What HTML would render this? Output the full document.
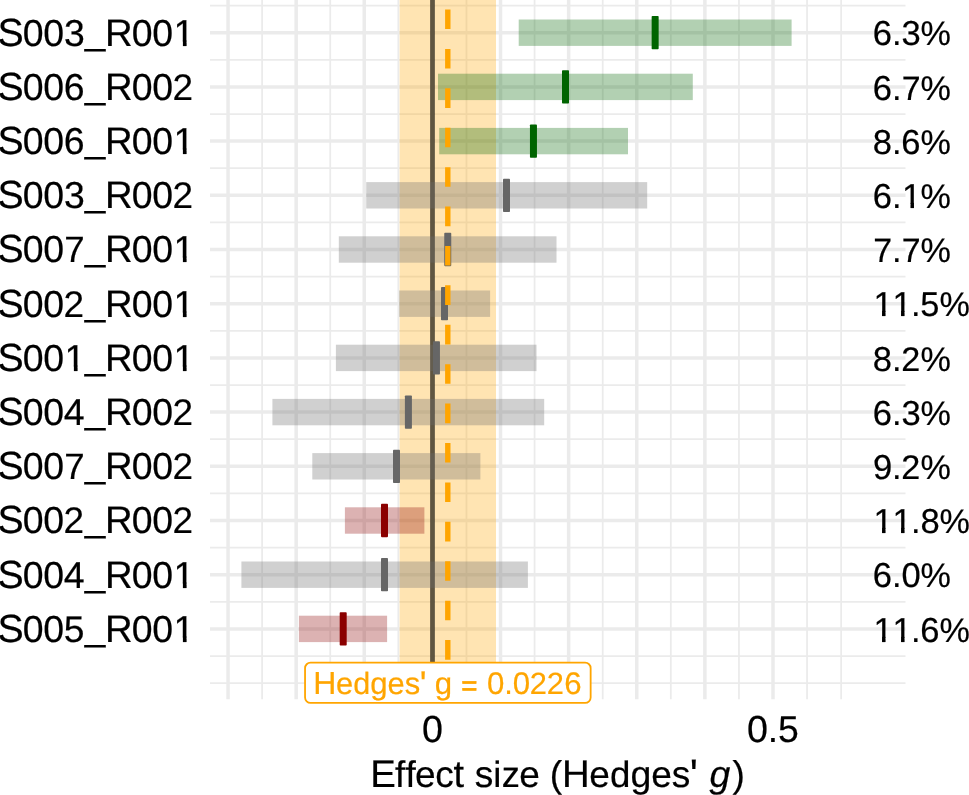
<!DOCTYPE html><html><head><meta charset="utf-8"><title>Forest plot</title><style>html,body{margin:0;padding:0;background:#fff;width:969px;height:795px;overflow:hidden}svg{display:block;will-change:transform}text{font-family:"Liberation Sans",sans-serif;text-rendering:geometricPrecision}</style></head><body>
<svg width="969" height="795" viewBox="0 0 969 795">
<defs><clipPath id="c1" clipPathUnits="userSpaceOnUse"><path clip-rule="evenodd" d="M-50 -74.0H1100V37.0H-50ZM174.69 -4.44H183.00V2.22H174.69ZM186.31 -4.44H194.20V2.22H186.31Z"/></clipPath><clipPath id="c2" clipPathUnits="userSpaceOnUse"><path clip-rule="evenodd" d="M-50 -74.0H1100V37.0H-50ZM174.69 -4.44H183.00V2.22H174.69ZM186.31 -4.44H194.20V2.22H186.31Z"/></clipPath><clipPath id="c3" clipPathUnits="userSpaceOnUse"><path clip-rule="evenodd" d="M-50 -68.4H1100V34.2H-50ZM903.06 -4.10H910.74V2.05H903.06ZM913.80 -4.10H921.08V2.05H913.80Z"/></clipPath><clipPath id="c4" clipPathUnits="userSpaceOnUse"><path clip-rule="evenodd" d="M-50 -74.0H1100V37.0H-50ZM174.69 -4.44H183.00V2.22H174.69ZM186.31 -4.44H194.20V2.22H186.31Z"/></clipPath><clipPath id="c5" clipPathUnits="userSpaceOnUse"><path clip-rule="evenodd" d="M-50 -74.0H1100V37.0H-50ZM174.69 -4.44H183.00V2.22H174.69ZM186.31 -4.44H194.20V2.22H186.31Z"/></clipPath><clipPath id="c6" clipPathUnits="userSpaceOnUse"><path clip-rule="evenodd" d="M-50 -68.4H1100V34.2H-50ZM874.54 -4.10H882.21V2.05H874.54ZM885.28 -4.10H892.56V2.05H885.28ZM893.56 -4.10H901.23V2.05H893.56ZM904.29 -4.10H911.58V2.05H904.29Z"/></clipPath><clipPath id="c7" clipPathUnits="userSpaceOnUse"><path clip-rule="evenodd" d="M-50 -74.0H1100V37.0H-50ZM65.68 -4.44H73.99V2.22H65.68ZM77.31 -4.44H85.19V2.22H77.31ZM174.69 -4.44H183.00V2.22H174.69ZM186.31 -4.44H194.20V2.22H186.31Z"/></clipPath><clipPath id="c8" clipPathUnits="userSpaceOnUse"><path clip-rule="evenodd" d="M-50 -68.4H1100V34.2H-50ZM874.54 -4.10H882.21V2.05H874.54ZM885.28 -4.10H892.56V2.05H885.28ZM893.56 -4.10H901.23V2.05H893.56ZM904.29 -4.10H911.58V2.05H904.29Z"/></clipPath><clipPath id="c9" clipPathUnits="userSpaceOnUse"><path clip-rule="evenodd" d="M-50 -74.0H1100V37.0H-50ZM174.69 -4.44H183.00V2.22H174.69ZM186.31 -4.44H194.20V2.22H186.31Z"/></clipPath><clipPath id="c10" clipPathUnits="userSpaceOnUse"><path clip-rule="evenodd" d="M-50 -74.0H1100V37.0H-50ZM174.69 -4.44H183.00V2.22H174.69ZM186.31 -4.44H194.20V2.22H186.31Z"/></clipPath><clipPath id="c11" clipPathUnits="userSpaceOnUse"><path clip-rule="evenodd" d="M-50 -68.4H1100V34.2H-50ZM874.54 -4.10H882.21V2.05H874.54ZM885.28 -4.10H892.56V2.05H885.28ZM893.56 -4.10H901.23V2.05H893.56ZM904.29 -4.10H911.58V2.05H904.29Z"/></clipPath></defs>
<rect width="969" height="795" fill="#fff"/>
<line x1="210.0" x2="905.5" y1="5.60" y2="5.60" stroke="#ebebeb" stroke-width="1.75"/>
<line x1="210.0" x2="905.5" y1="59.80" y2="59.80" stroke="#ebebeb" stroke-width="1.75"/>
<line x1="210.0" x2="905.5" y1="114.00" y2="114.00" stroke="#ebebeb" stroke-width="1.75"/>
<line x1="210.0" x2="905.5" y1="168.20" y2="168.20" stroke="#ebebeb" stroke-width="1.75"/>
<line x1="210.0" x2="905.5" y1="222.40" y2="222.40" stroke="#ebebeb" stroke-width="1.75"/>
<line x1="210.0" x2="905.5" y1="276.60" y2="276.60" stroke="#ebebeb" stroke-width="1.75"/>
<line x1="210.0" x2="905.5" y1="330.80" y2="330.80" stroke="#ebebeb" stroke-width="1.75"/>
<line x1="210.0" x2="905.5" y1="385.00" y2="385.00" stroke="#ebebeb" stroke-width="1.75"/>
<line x1="210.0" x2="905.5" y1="439.20" y2="439.20" stroke="#ebebeb" stroke-width="1.75"/>
<line x1="210.0" x2="905.5" y1="493.40" y2="493.40" stroke="#ebebeb" stroke-width="1.75"/>
<line x1="210.0" x2="905.5" y1="547.60" y2="547.60" stroke="#ebebeb" stroke-width="1.75"/>
<line x1="210.0" x2="905.5" y1="601.80" y2="601.80" stroke="#ebebeb" stroke-width="1.75"/>
<line x1="210.0" x2="905.5" y1="656.00" y2="656.00" stroke="#ebebeb" stroke-width="1.75"/>
<line x1="210.0" x2="905.5" y1="683.10" y2="683.10" stroke="#ebebeb" stroke-width="1.75"/>
<line y1="0.0" y2="699.3" x1="262.10" x2="262.10" stroke="#ebebeb" stroke-width="1.75"/>
<line y1="0.0" y2="699.3" x1="330.22" x2="330.22" stroke="#ebebeb" stroke-width="1.75"/>
<line y1="0.0" y2="699.3" x1="398.34" x2="398.34" stroke="#ebebeb" stroke-width="1.75"/>
<line y1="0.0" y2="699.3" x1="466.46" x2="466.46" stroke="#ebebeb" stroke-width="1.75"/>
<line y1="0.0" y2="699.3" x1="534.58" x2="534.58" stroke="#ebebeb" stroke-width="1.75"/>
<line y1="0.0" y2="699.3" x1="602.70" x2="602.70" stroke="#ebebeb" stroke-width="1.75"/>
<line y1="0.0" y2="699.3" x1="670.82" x2="670.82" stroke="#ebebeb" stroke-width="1.75"/>
<line y1="0.0" y2="699.3" x1="738.94" x2="738.94" stroke="#ebebeb" stroke-width="1.75"/>
<line y1="0.0" y2="699.3" x1="807.06" x2="807.06" stroke="#ebebeb" stroke-width="1.75"/>
<line y1="0.0" y2="699.3" x1="841.12" x2="841.12" stroke="#ebebeb" stroke-width="1.75"/>
<line x1="210.0" x2="905.5" y1="32.70" y2="32.70" stroke="#ebebeb" stroke-width="3.5"/>
<line x1="210.0" x2="905.5" y1="86.90" y2="86.90" stroke="#ebebeb" stroke-width="3.5"/>
<line x1="210.0" x2="905.5" y1="141.10" y2="141.10" stroke="#ebebeb" stroke-width="3.5"/>
<line x1="210.0" x2="905.5" y1="195.30" y2="195.30" stroke="#ebebeb" stroke-width="3.5"/>
<line x1="210.0" x2="905.5" y1="249.50" y2="249.50" stroke="#ebebeb" stroke-width="3.5"/>
<line x1="210.0" x2="905.5" y1="303.70" y2="303.70" stroke="#ebebeb" stroke-width="3.5"/>
<line x1="210.0" x2="905.5" y1="357.90" y2="357.90" stroke="#ebebeb" stroke-width="3.5"/>
<line x1="210.0" x2="905.5" y1="412.10" y2="412.10" stroke="#ebebeb" stroke-width="3.5"/>
<line x1="210.0" x2="905.5" y1="466.30" y2="466.30" stroke="#ebebeb" stroke-width="3.5"/>
<line x1="210.0" x2="905.5" y1="520.50" y2="520.50" stroke="#ebebeb" stroke-width="3.5"/>
<line x1="210.0" x2="905.5" y1="574.70" y2="574.70" stroke="#ebebeb" stroke-width="3.5"/>
<line x1="210.0" x2="905.5" y1="628.90" y2="628.90" stroke="#ebebeb" stroke-width="3.5"/>
<line y1="0.0" y2="699.3" x1="228.04" x2="228.04" stroke="#ebebeb" stroke-width="3.5"/>
<line y1="0.0" y2="699.3" x1="296.16" x2="296.16" stroke="#ebebeb" stroke-width="3.5"/>
<line y1="0.0" y2="699.3" x1="364.28" x2="364.28" stroke="#ebebeb" stroke-width="3.5"/>
<line y1="0.0" y2="699.3" x1="432.40" x2="432.40" stroke="#ebebeb" stroke-width="3.5"/>
<line y1="0.0" y2="699.3" x1="500.52" x2="500.52" stroke="#ebebeb" stroke-width="3.5"/>
<line y1="0.0" y2="699.3" x1="568.64" x2="568.64" stroke="#ebebeb" stroke-width="3.5"/>
<line y1="0.0" y2="699.3" x1="636.76" x2="636.76" stroke="#ebebeb" stroke-width="3.5"/>
<line y1="0.0" y2="699.3" x1="704.88" x2="704.88" stroke="#ebebeb" stroke-width="3.5"/>
<line y1="0.0" y2="699.3" x1="773.00" x2="773.00" stroke="#ebebeb" stroke-width="3.5"/>
<rect x="399.6" y="0.0" width="96.4" height="699.3" fill="rgba(255,165,0,0.3)"/>
<line x1="432.5" x2="432.5" y1="0.0" y2="699.3" stroke="rgba(0,0,0,0.6)" stroke-width="4.8"/>
<rect x="518.7" y="19.50" width="272.9" height="26.4" fill="rgba(0,100,0,0.3)"/>
<rect x="438.0" y="73.70" width="254.8" height="26.4" fill="rgba(0,100,0,0.3)"/>
<rect x="439.2" y="127.90" width="188.8" height="26.4" fill="rgba(0,100,0,0.3)"/>
<rect x="366.2" y="182.10" width="281.0" height="26.4" fill="rgba(110,110,110,0.32)"/>
<rect x="338.8" y="236.30" width="217.7" height="26.4" fill="rgba(110,110,110,0.32)"/>
<rect x="399.1" y="290.50" width="91.0" height="26.4" fill="rgba(110,110,110,0.32)"/>
<rect x="335.9" y="344.70" width="200.6" height="26.4" fill="rgba(110,110,110,0.32)"/>
<rect x="272.4" y="398.90" width="271.8" height="26.4" fill="rgba(110,110,110,0.32)"/>
<rect x="312.3" y="453.10" width="168.1" height="26.4" fill="rgba(110,110,110,0.32)"/>
<rect x="344.9" y="507.30" width="79.5" height="26.4" fill="rgba(139,0,0,0.3)"/>
<rect x="241.4" y="561.50" width="286.5" height="26.4" fill="rgba(110,110,110,0.32)"/>
<rect x="298.9" y="615.70" width="88.2" height="26.4" fill="rgba(139,0,0,0.3)"/>
<rect x="651.65" y="16.05" width="7.0" height="33.3" rx="0.8" fill="#006400"/>
<rect x="562.00" y="70.25" width="7.0" height="33.3" rx="0.8" fill="#006400"/>
<rect x="529.95" y="124.45" width="7.0" height="33.3" rx="0.8" fill="#006400"/>
<rect x="503.00" y="178.65" width="7.0" height="33.3" rx="0.8" fill="#666666"/>
<rect x="444.25" y="232.85" width="7.0" height="33.3" rx="0.8" fill="#666666"/>
<rect x="441.00" y="287.05" width="7.0" height="33.3" rx="0.8" fill="#666666"/>
<rect x="432.95" y="341.25" width="7.0" height="33.3" rx="0.8" fill="#666666"/>
<rect x="404.90" y="395.45" width="7.0" height="33.3" rx="0.8" fill="#666666"/>
<rect x="393.00" y="449.65" width="7.0" height="33.3" rx="0.8" fill="#666666"/>
<rect x="381.00" y="503.85" width="7.0" height="33.3" rx="0.8" fill="#8b0000"/>
<rect x="381.00" y="558.05" width="7.0" height="33.3" rx="0.8" fill="#666666"/>
<rect x="339.70" y="612.25" width="7.0" height="33.3" rx="0.8" fill="#8b0000"/>
<line x1="447.8" x2="447.8" y1="-108.73" y2="699.3" stroke="#ffa500" stroke-width="5.4" stroke-dasharray="19.6 19.81"/>
<rect x="305.05" y="662.65" width="285.6" height="40.3" rx="5.5" fill="#fff" stroke="#ffa500" stroke-width="1.8"/>
<text transform="translate(0 694.00)" font-size="30.90" fill="#ffa500" stroke="#ffa500" stroke-width="0.2"><tspan x="313.29" y="0.00" font-size="31.96">H</tspan><tspan x="336.02" y="0.00" font-size="30.83">e</tspan><tspan x="353.25" y="0.00" font-size="30.57">d</tspan><tspan x="370.33" y="0.00" font-size="31.21">g</tspan><tspan x="387.56" y="0.00" font-size="30.83">e</tspan><tspan x="404.76" y="0.00" font-size="30.91">s</tspan><tspan x="419.70" y="2.05" font-size="35.53">&#39;</tspan><tspan x="426.05" y="0.00"> </tspan><tspan x="434.64 451.82" y="0.00" font-size="31.21">g </tspan><tspan x="461.32" y="1.35" font-size="27.81" stroke-width="0.6">=</tspan><tspan x="478.45" y="0.00"> </tspan><tspan x="486.95" y="0.00" font-size="31.23">0</tspan><tspan x="504.23" y="0.00">.</tspan><tspan x="512.72" y="0.00" font-size="31.23">0</tspan><tspan x="529.66 546.84" y="0.00" font-size="30.82">22</tspan><tspan x="564.16" y="0.00" font-size="31.23">6</tspan></text>
<text transform="translate(0 46.00)" font-size="37.00" fill="#000" stroke="#000" stroke-width="0.2" clip-path="url(#c1)"><tspan x="-2.49" y="0.00" font-size="39.23">S</tspan><tspan x="22.75 43.33 64.01" y="0.00" font-size="37.45">003</tspan><tspan x="84.67" y="-2.48">_</tspan><tspan x="104.93" y="0.00" font-size="38.32">R</tspan><tspan x="131.76 152.33" y="0.00" font-size="37.45">00</tspan><tspan x="173.56" y="0.00" font-size="37.52">1</tspan></text><rect x="182.90" y="40.45" width="3.52" height="5.65" fill="#000"/>
<text transform="translate(0 45.00)" font-size="34.20" fill="#000" stroke="#000" stroke-width="0.2"><tspan x="872.77" y="0.00" font-size="34.59">6</tspan><tspan x="892.02" y="0.00">.</tspan><tspan x="901.51" y="0.00" font-size="34.59">3</tspan><tspan x="920.54" y="0.00">%</tspan></text>
<text transform="translate(0 100.00)" font-size="37.00" fill="#000" stroke="#000" stroke-width="0.2"><tspan x="-2.49" y="0.00" font-size="39.23">S</tspan><tspan x="22.75 43.33 63.77" y="0.00" font-size="37.45">006</tspan><tspan x="84.67" y="-2.48">_</tspan><tspan x="104.93" y="0.00" font-size="38.32">R</tspan><tspan x="131.76 152.33" y="0.00" font-size="37.45">00</tspan><tspan x="172.61" y="0.00" font-size="36.97">2</tspan></text>
<text transform="translate(0 100.00)" font-size="34.20" fill="#000" stroke="#000" stroke-width="0.2"><tspan x="872.77" y="0.00" font-size="34.59">6</tspan><tspan x="892.02" y="0.00">.</tspan><tspan x="901.65" y="0.00" font-size="33.91">7</tspan><tspan x="920.54" y="0.00">%</tspan></text>
<text transform="translate(0 154.00)" font-size="37.00" fill="#000" stroke="#000" stroke-width="0.2" clip-path="url(#c2)"><tspan x="-2.49" y="0.00" font-size="39.23">S</tspan><tspan x="22.75 43.33 63.77" y="0.00" font-size="37.45">006</tspan><tspan x="84.67" y="-2.48">_</tspan><tspan x="104.93" y="0.00" font-size="38.32">R</tspan><tspan x="131.76 152.33" y="0.00" font-size="37.45">00</tspan><tspan x="173.56" y="0.00" font-size="37.52">1</tspan></text><rect x="182.90" y="148.45" width="3.52" height="5.65" fill="#000"/>
<text transform="translate(0 154.00)" font-size="34.20" fill="#000" stroke="#000" stroke-width="0.2"><tspan x="872.87" y="0.00" font-size="34.59">8</tspan><tspan x="892.02" y="0.00">.</tspan><tspan x="901.29" y="0.00" font-size="34.59">6</tspan><tspan x="920.54" y="0.00">%</tspan></text>
<text transform="translate(0 208.00)" font-size="37.00" fill="#000" stroke="#000" stroke-width="0.2"><tspan x="-2.49" y="0.00" font-size="39.23">S</tspan><tspan x="22.75 43.33 64.01" y="0.00" font-size="37.45">003</tspan><tspan x="84.67" y="-2.48">_</tspan><tspan x="104.93" y="0.00" font-size="38.32">R</tspan><tspan x="131.76 152.33" y="0.00" font-size="37.45">00</tspan><tspan x="172.61" y="0.00" font-size="36.97">2</tspan></text>
<text transform="translate(0 208.00)" font-size="34.20" fill="#000" stroke="#000" stroke-width="0.2" clip-path="url(#c3)"><tspan x="872.77" y="0.00" font-size="34.59">6</tspan><tspan x="892.02" y="0.00">.</tspan><tspan x="902.02" y="0.00" font-size="34.66">1</tspan><tspan x="920.54" y="0.00">%</tspan></text><rect x="910.64" y="202.87" width="3.26" height="5.23" fill="#000"/>
<text transform="translate(0 262.00)" font-size="37.00" fill="#000" stroke="#000" stroke-width="0.2" clip-path="url(#c4)"><tspan x="-2.49" y="0.00" font-size="39.23">S</tspan><tspan x="22.75 43.33" y="0.00" font-size="37.45">00</tspan><tspan x="64.16" y="0.00" font-size="36.71">7</tspan><tspan x="84.67" y="-2.48">_</tspan><tspan x="104.93" y="0.00" font-size="38.32">R</tspan><tspan x="131.76 152.33" y="0.00" font-size="37.45">00</tspan><tspan x="173.56" y="0.00" font-size="37.52">1</tspan></text><rect x="182.90" y="256.45" width="3.52" height="5.65" fill="#000"/>
<text transform="translate(0 262.00)" font-size="34.20" fill="#000" stroke="#000" stroke-width="0.2"><tspan x="873.13" y="0.00" font-size="33.91">7</tspan><tspan x="892.02" y="0.00">.</tspan><tspan x="901.65" y="0.00" font-size="33.91">7</tspan><tspan x="920.54" y="0.00">%</tspan></text>
<text transform="translate(0 317.00)" font-size="37.00" fill="#000" stroke="#000" stroke-width="0.2" clip-path="url(#c5)"><tspan x="-2.49" y="0.00" font-size="39.23">S</tspan><tspan x="22.75 43.33" y="0.00" font-size="37.45">00</tspan><tspan x="63.61" y="0.00" font-size="36.97">2</tspan><tspan x="84.67" y="-2.48">_</tspan><tspan x="104.93" y="0.00" font-size="38.32">R</tspan><tspan x="131.76 152.33" y="0.00" font-size="37.45">00</tspan><tspan x="173.56" y="0.00" font-size="37.52">1</tspan></text><rect x="182.90" y="311.45" width="3.52" height="5.65" fill="#000"/>
<text transform="translate(0 316.00)" font-size="34.20" fill="#000" stroke="#000" stroke-width="0.2" clip-path="url(#c6)"><tspan x="873.50 892.52" y="0.00" font-size="34.66">11</tspan><tspan x="911.03" y="0.00">.</tspan><tspan x="920.35" y="0.00" font-size="34.37">5</tspan><tspan x="939.55" y="0.00">%</tspan></text><rect x="882.11" y="310.87" width="3.26" height="5.23" fill="#000"/><rect x="901.13" y="310.87" width="3.26" height="5.23" fill="#000"/>
<text transform="translate(0 371.00)" font-size="37.00" fill="#000" stroke="#000" stroke-width="0.2" clip-path="url(#c7)"><tspan x="-2.49" y="0.00" font-size="39.23">S</tspan><tspan x="22.75 43.33" y="0.00" font-size="37.45">00</tspan><tspan x="64.56" y="0.00" font-size="37.52">1</tspan><tspan x="84.67" y="-2.48">_</tspan><tspan x="104.93" y="0.00" font-size="38.32">R</tspan><tspan x="131.76 152.33" y="0.00" font-size="37.45">00</tspan><tspan x="173.56" y="0.00" font-size="37.52">1</tspan></text><rect x="73.89" y="365.45" width="3.52" height="5.65" fill="#000"/><rect x="182.90" y="365.45" width="3.52" height="5.65" fill="#000"/>
<text transform="translate(0 371.00)" font-size="34.20" fill="#000" stroke="#000" stroke-width="0.2"><tspan x="872.87" y="0.00" font-size="34.59">8</tspan><tspan x="892.02" y="0.00">.</tspan><tspan x="901.14" y="0.00" font-size="34.15">2</tspan><tspan x="920.54" y="0.00">%</tspan></text>
<text transform="translate(0 425.00)" font-size="37.00" fill="#000" stroke="#000" stroke-width="0.2"><tspan x="-2.49" y="0.00" font-size="39.23">S</tspan><tspan x="22.75 43.33" y="0.00" font-size="37.45">00</tspan><tspan x="63.85" y="0.00" font-size="37.52">4</tspan><tspan x="84.67" y="-2.48">_</tspan><tspan x="104.93" y="0.00" font-size="38.32">R</tspan><tspan x="131.76 152.33" y="0.00" font-size="37.45">00</tspan><tspan x="172.61" y="0.00" font-size="36.97">2</tspan></text>
<text transform="translate(0 425.00)" font-size="34.20" fill="#000" stroke="#000" stroke-width="0.2"><tspan x="872.77" y="0.00" font-size="34.59">6</tspan><tspan x="892.02" y="0.00">.</tspan><tspan x="901.51" y="0.00" font-size="34.59">3</tspan><tspan x="920.54" y="0.00">%</tspan></text>
<text transform="translate(0 479.00)" font-size="37.00" fill="#000" stroke="#000" stroke-width="0.2"><tspan x="-2.49" y="0.00" font-size="39.23">S</tspan><tspan x="22.75 43.33" y="0.00" font-size="37.45">00</tspan><tspan x="64.16" y="0.00" font-size="36.71">7</tspan><tspan x="84.67" y="-2.48">_</tspan><tspan x="104.93" y="0.00" font-size="38.32">R</tspan><tspan x="131.76 152.33" y="0.00" font-size="37.45">00</tspan><tspan x="172.61" y="0.00" font-size="36.97">2</tspan></text>
<text transform="translate(0 479.00)" font-size="34.20" fill="#000" stroke="#000" stroke-width="0.2"><tspan x="872.90" y="0.00" font-size="34.59">9</tspan><tspan x="892.02" y="0.00">.</tspan><tspan x="901.14" y="0.00" font-size="34.15">2</tspan><tspan x="920.54" y="0.00">%</tspan></text>
<text transform="translate(0 533.00)" font-size="37.00" fill="#000" stroke="#000" stroke-width="0.2"><tspan x="-2.49" y="0.00" font-size="39.23">S</tspan><tspan x="22.75 43.33" y="0.00" font-size="37.45">00</tspan><tspan x="63.61" y="0.00" font-size="36.97">2</tspan><tspan x="84.67" y="-2.48">_</tspan><tspan x="104.93" y="0.00" font-size="38.32">R</tspan><tspan x="131.76 152.33" y="0.00" font-size="37.45">00</tspan><tspan x="172.61" y="0.00" font-size="36.97">2</tspan></text>
<text transform="translate(0 533.00)" font-size="34.20" fill="#000" stroke="#000" stroke-width="0.2" clip-path="url(#c8)"><tspan x="873.50 892.52" y="0.00" font-size="34.66">11</tspan><tspan x="911.03" y="0.00">.</tspan><tspan x="920.41" y="0.00" font-size="34.59">8</tspan><tspan x="939.55" y="0.00">%</tspan></text><rect x="882.11" y="527.87" width="3.26" height="5.23" fill="#000"/><rect x="901.13" y="527.87" width="3.26" height="5.23" fill="#000"/>
<text transform="translate(0 588.00)" font-size="37.00" fill="#000" stroke="#000" stroke-width="0.2" clip-path="url(#c9)"><tspan x="-2.49" y="0.00" font-size="39.23">S</tspan><tspan x="22.75 43.33" y="0.00" font-size="37.45">00</tspan><tspan x="63.85" y="0.00" font-size="37.52">4</tspan><tspan x="84.67" y="-2.48">_</tspan><tspan x="104.93" y="0.00" font-size="38.32">R</tspan><tspan x="131.76 152.33" y="0.00" font-size="37.45">00</tspan><tspan x="173.56" y="0.00" font-size="37.52">1</tspan></text><rect x="182.90" y="582.45" width="3.52" height="5.65" fill="#000"/>
<text transform="translate(0 587.00)" font-size="34.20" fill="#000" stroke="#000" stroke-width="0.2"><tspan x="872.77" y="0.00" font-size="34.59">6</tspan><tspan x="892.02" y="0.00">.</tspan><tspan x="901.41" y="0.00" font-size="34.59">0</tspan><tspan x="920.54" y="0.00">%</tspan></text>
<text transform="translate(0 642.00)" font-size="37.00" fill="#000" stroke="#000" stroke-width="0.2" clip-path="url(#c10)"><tspan x="-2.49" y="0.00" font-size="39.23">S</tspan><tspan x="22.75 43.33" y="0.00" font-size="37.45">00</tspan><tspan x="63.82" y="0.00" font-size="37.20">5</tspan><tspan x="84.67" y="-2.48">_</tspan><tspan x="104.93" y="0.00" font-size="38.32">R</tspan><tspan x="131.76 152.33" y="0.00" font-size="37.45">00</tspan><tspan x="173.56" y="0.00" font-size="37.52">1</tspan></text><rect x="182.90" y="636.45" width="3.52" height="5.65" fill="#000"/>
<text transform="translate(0 642.00)" font-size="34.20" fill="#000" stroke="#000" stroke-width="0.2" clip-path="url(#c11)"><tspan x="873.50 892.52" y="0.00" font-size="34.66">11</tspan><tspan x="911.03" y="0.00">.</tspan><tspan x="920.31" y="0.00" font-size="34.59">6</tspan><tspan x="939.55" y="0.00">%</tspan></text><rect x="882.11" y="636.87" width="3.26" height="5.23" fill="#000"/><rect x="901.13" y="636.87" width="3.26" height="5.23" fill="#000"/>
<text transform="translate(0 742.00)" font-size="37.20" fill="#000" stroke="#000" stroke-width="0.2"><tspan x="421.93" y="0.00" font-size="37.65">0</tspan></text>
<text transform="translate(0 742.00)" font-size="37.20" fill="#000" stroke="#000" stroke-width="0.2"><tspan x="747.02" y="0.00" font-size="37.65">0</tspan><tspan x="767.83" y="0.00">.</tspan><tspan x="777.96" y="0.00" font-size="37.41">5</tspan></text>
<text transform="translate(0 787.00)" font-size="37.05" fill="#000" stroke="#000" stroke-width="0.2"><tspan x="370.15" y="0.00" font-size="38.38">E</tspan><tspan x="395.09 405.39" y="0.00" font-size="37.00">ff</tspan><tspan x="414.93 435.33" y="0.00" font-size="37.03">ec</tspan><tspan x="453.61 464.32" y="0.00" font-size="37.97">t </tspan><tspan x="474.67" y="0.00" font-size="37.13">s</tspan><tspan x="493.21" y="0.00" font-size="36.44">i</tspan><tspan x="501.72" y="0.00" font-size="36.30">z</tspan><tspan x="519.37 539.93" y="0.00" font-size="37.03">e </tspan><tspan x="549.80" y="0.00" font-size="37.17">(</tspan><tspan x="562.10" y="0.00" font-size="38.38">H</tspan><tspan x="589.36" y="0.00" font-size="37.03">e</tspan><tspan x="610.02" y="0.00" font-size="36.71">d</tspan><tspan x="630.51" y="0.00" font-size="37.47">g</tspan><tspan x="651.16" y="0.00" font-size="37.03">e</tspan><tspan x="671.78" y="0.00" font-size="37.13">s</tspan><tspan x="689.71" y="2.45" font-size="42.61">&#39;</tspan><tspan x="697.32" y="0.00"> </tspan><tspan x="709.42" y="0.00" font-size="37.42" font-style="italic">g</tspan><tspan x="732.38" y="0.00" font-size="37.17">)</tspan></text>
</svg></body></html>
